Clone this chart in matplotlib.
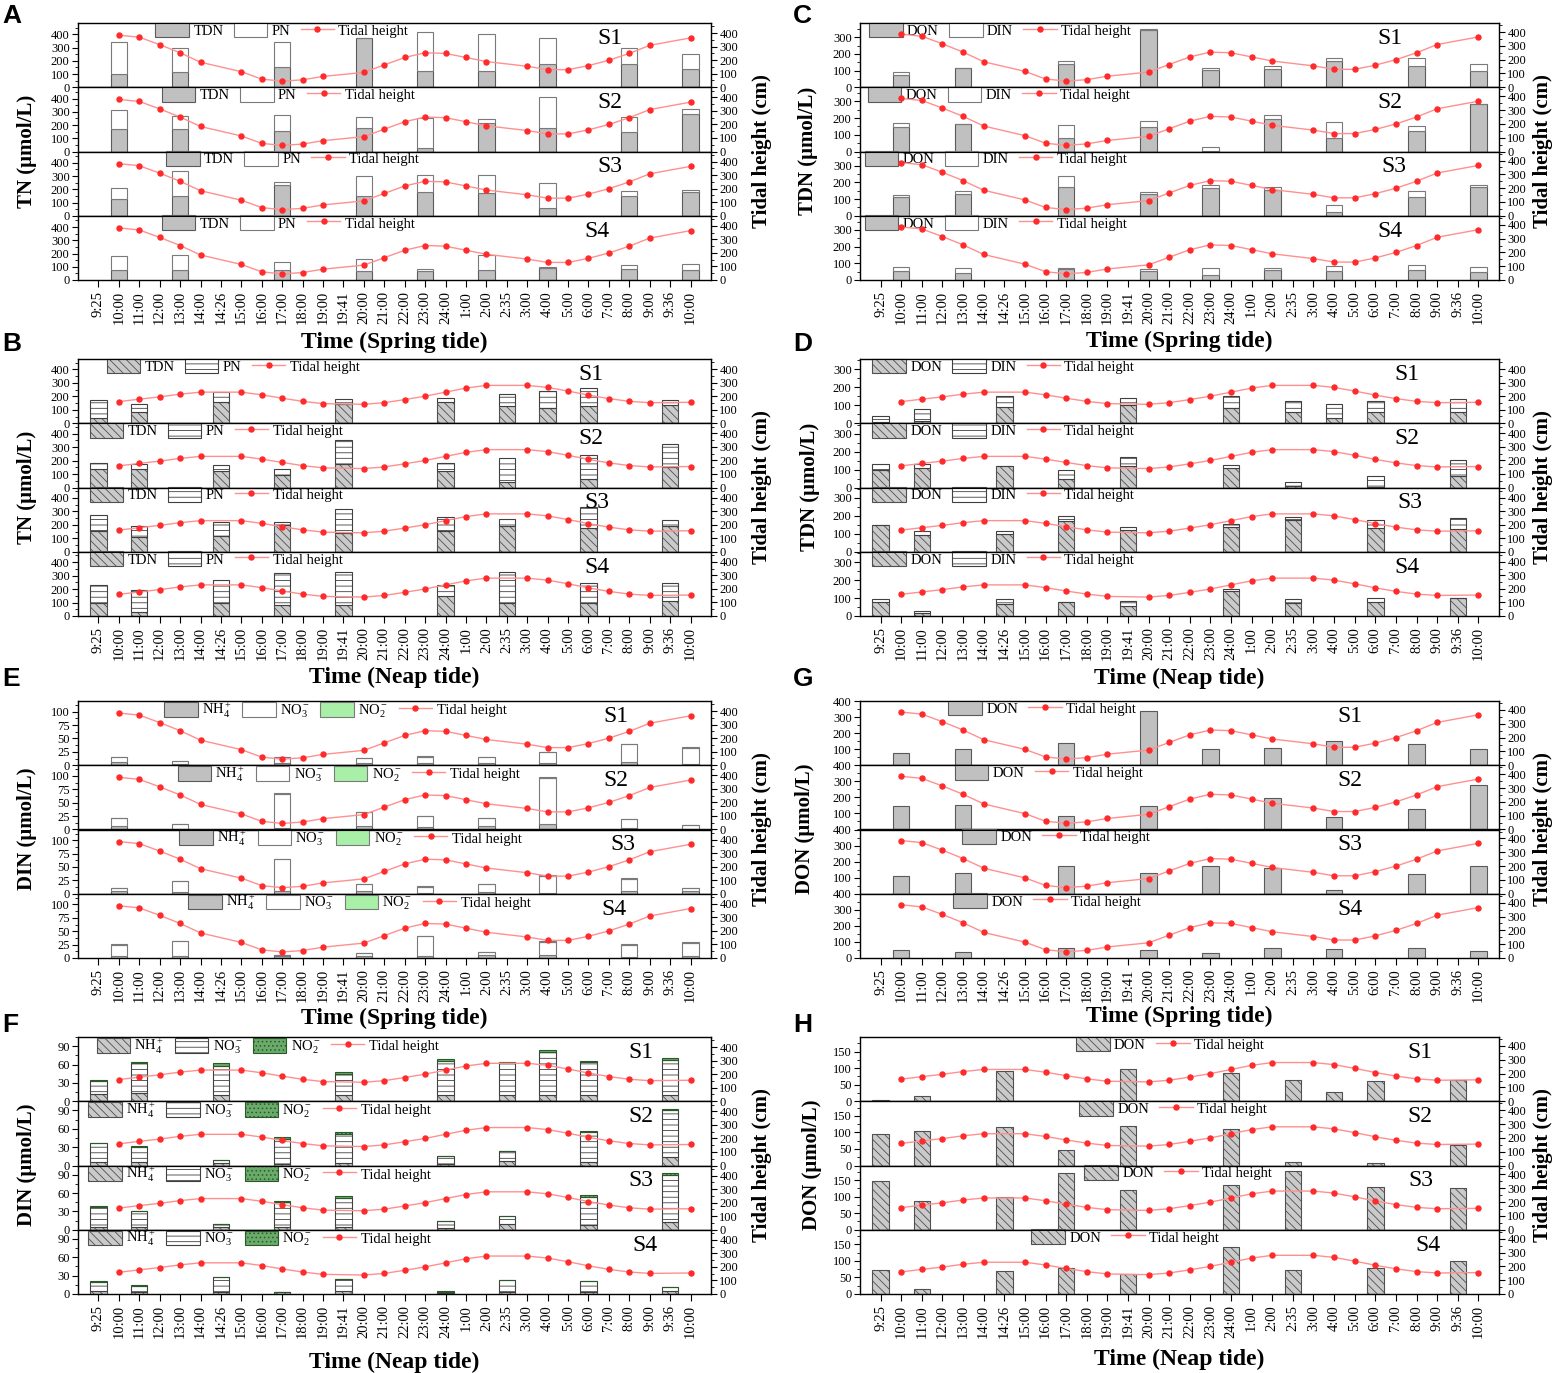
import matplotlib
matplotlib.use('Agg')
import matplotlib.pyplot as plt
import numpy as np
from matplotlib.patches import Patch
from matplotlib.lines import Line2D
from matplotlib.ticker import MultipleLocator

plt.rcParams['font.family'] = ['Liberation Serif', 'DejaVu Serif']
plt.rcParams['mathtext.fontset'] = 'custom'
plt.rcParams['mathtext.rm'] = 'Liberation Serif'
plt.rcParams['mathtext.it'] = 'Liberation Serif:italic'
plt.rcParams['mathtext.bf'] = 'Liberation Serif:bold'
plt.rcParams['hatch.linewidth'] = 0.6

nan = np.nan

# time axis shared by every panel
times = ['9:25', '10:00', '11:00', '12:00', '13:00', '14:00', '14:26', '15:00', '16:00',
         '17:00', '18:00', '19:00', '19:41', '20:00', '21:00', '22:00', '23:00', '24:00',
         '1:00', '2:00', '2:35', '3:00', '4:00', '5:00', '6:00', '7:00', '8:00', '9:00',
         '9:36', '10:00']
tide_hours = ['10:00', '11:00', '12:00', '13:00', '14:00', '15:00', '16:00', '17:00', '18:00',
              '19:00', '20:00', '21:00', '22:00', '23:00', '24:00', '1:00', '2:00', '3:00',
              '4:00', '5:00', '6:00', '7:00', '8:00', '9:00', '10:00']
spring_tide = [385, 370, 315, 255, 185, 115, 60, 45, 55, 80, 110, 165, 220, 255, 250, 220,
               190, 155, 130, 130, 160, 200, 250, 310, 365]
neap_tide = [160, 178, 195, 215, 230, 230, 210, 185, 162, 145, 140, 152, 175, 200, 230, 260,
             280, 280, 265, 238, 208, 182, 162, 152, 155]

spring_samples = ['10:00', '13:00', '17:00', '20:00', '23:00', '2:00', '4:00', '8:00', '10:00']
neap_samples = ['9:25', '11:00', '14:26', '17:00', '19:41', '24:00', '2:35', '4:00', '6:00', '9:36']

# A: spring TN = TDN + PN  (rows S1..S4)
a_tdn = [[100, 115, 155, 375, 120, 125, 175, 175, 135],
         [170, 170, 155, 178, 30, 215, 180, 150, 285],
         [125, 150, 235, 150, 180, 170, 60, 150, 180],
         [75, 75, 75, 65, 65, 75, 90, 85, 75]]
a_pn = [[245, 185, 185, 0, 300, 275, 200, 120, 115],
        [145, 100, 120, 80, 225, 30, 230, 110, 35],
        [85, 190, 20, 150, 130, 140, 185, 35, 15],
        [105, 115, 60, 90, 15, 115, 5, 25, 45]]

# B: neap TN = TDN + PN
b_tdn = [[40, 80, 160, nan, 145, 155, 125, 110, 125, 135],
         [135, 135, 125, 95, 175, 125, 40, nan, 65, 155],
         [155, 110, 115, 200, 140, 155, 190, nan, 180, 190],
         [95, 30, 95, 80, 80, 150, 100, nan, 95, 110]]
b_pn = [[135, 60, 70, nan, 35, 35, 95, 130, 135, 40],
        [45, 40, 40, 45, 175, 55, 178, nan, 175, 165],
        [115, 80, 105, 20, 180, 103, 50, nan, 150, 45],
        [135, 160, 170, 240, 250, 80, 225, nan, 150, 135]]

# C: spring TDN = DON + DIN
c_don = [[75, 113, 137, 342, 102, 108, 155, 130, 100],
         [147, 165, 83, 145, 5, 193, 78, 125, 282],
         [110, 128, 170, 128, 165, 152, 22, 115, 172],
         [55, 42, 68, 55, 28, 60, 53, 60, 48]]
c_din = [[17, 2, 18, 10, 16, 17, 23, 45, 37],
         [23, 0, 74, 35, 23, 25, 97, 25, 3],
         [13, 22, 68, 17, 20, 18, 40, 32, 11],
         [22, 30, 4, 13, 44, 12, 32, 30, 29]]

# D: neap TDN = DON + DIN
d_don = [[8, 15, 90, nan, 100, 85, 62, 30, 62, 65],
         [100, 110, 118, 48, 120, 110, 8, nan, 5, 65],
         [148, 92, 98, 172, 120, 138, 178, nan, 132, 128],
         [78, 15, 68, 78, 58, 142, 75, nan, 80, 100]]
d_din = [[32, 67, 62, nan, 42, 67, 63, 80, 63, 70],
         [32, 22, 4, 47, 50, 15, 22, nan, 57, 90],
         [2, 23, 19, 28, 18, 14, 14, nan, 46, 60],
         [17, 15, 27, 2, 27, 6, 20, nan, 20, 0]]

# E: spring DIN = NH4 + NO3 + NO2
e_nh4 = [[6, 3, 4, 4, 4, 4, 4, 7, 2],
         [6, 1, 3, 6, 4, 6, 11, 3, 1],
         [5, 4, 6, 6, 1, 3, 2, 6, 5],
         [4, 3, 4, 3, 4, 5, 6, 2, 4]]
e_no3 = [[9, 5, 11, 9, 12, 11, 20, 32, 30],
         [15, 9, 64, 26, 21, 15, 85, 17, 7],
         [5, 20, 59, 12, 12, 15, 32, 22, 5],
         [21, 29, 1, 6, 37, 6, 24, 23, 24]]
e_no2 = [[1, 0, 1, 1, 1.5, 1, 1, 1.5, 2.5],
         [1, 0.5, 1.5, 1, 1, 1, 2, 0.5, 0.5],
         [0.5, 0.5, 0.5, 0.5, 1, 0.5, 1, 1, 0.5],
         [0.5, 0.5, 0, 1, 1, 1, 1, 0.5, 1]]

# F: neap DIN = NH4 + NO3 + NO2
f_nh4 = [[12, 14, 11, nan, 11, 11, 11, 11, 10, 11],
         [5, 6, 4, 3, 4, 2, 8, nan, 6, 14],
         [4, 4, 5, 4, 5, 3, 9, nan, 7, 12],
         [5, 3, 4, 3, 5, 2, 3, nan, 4, 5]]
f_no3 = [[21, 48, 47, nan, 34, 55, 51, 69, 54, 56],
         [32, 25, 5, 41, 47, 13, 15, nan, 48, 76],
         [33, 26, 5, 41, 47, 12, 14, nan, 47, 78],
         [15, 10, 23, 0.5, 20, 2, 20, nan, 17, 6]]
f_no2 = [[2, 2, 4, nan, 2, 3, 1.5, 4, 2, 3],
         [0.5, 0.5, 0, 2, 3, 0, 0, nan, 3, 3],
         [1, 0.5, 0, 2, 3, 0, 0, nan, 3, 3],
         [2, 1, 1, 0, 0, 1, 0, nan, 0.5, 0.5]]

# G: spring DON, H: neap DON
g_don = [[75, 102, 140, 340, 102, 108, 152, 133, 102],
         [148, 155, 85, 148, 5, 198, 80, 130, 275],
         [112, 128, 170, 128, 170, 158, 25, 120, 170],
         [48, 40, 65, 52, 30, 60, 55, 60, 45]]
h_don = [[5, 17, 92, nan, 97, 85, 65, 28, 62, 65],
         [95, 105, 115, 48, 118, 110, 12, nan, 8, 63],
         [147, 86, 100, 170, 120, 135, 178, nan, 128, 125],
         [73, 15, 68, 77, 60, 142, 73, nan, 77, 100]]

styles = {
    'sp_gray': dict(facecolor='#c0c0c0', edgecolor='#5a5a5a'),
    'sp_white': dict(facecolor='white', edgecolor='#7a7a7a'),
    'sp_green': dict(facecolor='#a8f0a8', edgecolor='#7a7a7a'),
    'np_gray': dict(facecolor='#cacaca', edgecolor='#505050', hatch='\\\\\\\\'),
    'np_white': dict(facecolor='white', edgecolor='#404040', hatch='---'),
    'np_green': dict(facecolor='#6aaa6a', edgecolor='#2a5a2a', hatch='....'),
}
NH4, NO3, NO2 = r'NH$_4^+$', r'NO$_3^-$', r'NO$_2^-$'
LINE_C, DOT_C = '#ff9090', '#ff2a2a'

W, H = 1554, 1373
fig = plt.figure(figsize=(W / 100, H / 100), dpi=100)


def locate(labels):
    # walk the time axis in order so the repeated 10:00 lands on the right slot
    out, start = [], 0
    for lab in labels:
        i = times.index(lab, start)
        out.append(i)
        start = i + 1
    return np.array(out)


def draw_panel(p):
    x0, y0, w = p['box']
    h = 257 / 4
    sx = locate(p['samples'])
    tx = locate(tide_hours)
    for k in range(4):
        ax = fig.add_axes([x0 / W, 1 - (y0 + (k + 1) * h) / H, w / W, h / H])
        bottom = np.zeros(len(sx))
        handles = []
        for label, data, st in p['series']:
            v = np.array(data[k], float)
            m = ~np.isnan(v)
            ax.bar(sx[m], v[m], bottom=bottom[m], width=0.8, linewidth=0.8, **styles[st])
            bottom = bottom + np.nan_to_num(v)
            handles.append(Patch(label=label, linewidth=0.8, **styles[st]))
        ax.set_xlim(-1, 30)
        ax.set_ylim(0, p['ylim'])
        ticks = np.arange(0, p['ylim'] + 0.01, p['ystep'])
        if p.get('drop_zero') and k < 3:
            ticks = ticks[1:]
        ax.set_yticks(ticks)
        ax.yaxis.set_minor_locator(MultipleLocator(p['yminor']))
        ax.tick_params(axis='y', labelsize=9, length=4, pad=2)
        ax.tick_params(axis='y', which='minor', length=2)
        for s in ax.spines.values():
            s.set_linewidth(1.0)
            s.set_color('#333333')
        if k == 3:
            ax.set_xticks(range(len(times)))
            ax.set_xticklabels(times, rotation=90, fontsize=10.5)
            ax.tick_params(axis='x', length=5, pad=3)
        else:
            ax.tick_params(axis='x', bottom=False, labelbottom=False)

        tw = ax.twinx()
        tw.plot(tx, p['tide'], color=LINE_C, lw=1.0, marker='o', ms=3.6,
                mfc=DOT_C, mec=DOT_C)
        tw.set_ylim(0, p['ytide'])
        tw.set_yticks(range(0, 401, 100))
        tw.yaxis.set_minor_locator(MultipleLocator(50))
        tw.tick_params(axis='y', labelsize=9, length=4, pad=2)
        tw.tick_params(axis='y', which='minor', length=2)
        handles.append(Line2D([], [], color=LINE_C, lw=1.0, marker='o', ms=3.6,
                              mfc=DOT_C, mec=DOT_C, label='Tidal height'))
        ax.legend(handles=handles, loc='upper left', bbox_to_anchor=(p['leg_x'][k], 1.03),
                  ncol=len(handles), frameon=False, fontsize=10.5, borderaxespad=0,
                  borderpad=0.1, handlelength=2.3, handleheight=1.2, handletextpad=0.3,
                  columnspacing=0.7)
        ax.text(p['s_x'][k], 0.76, 'S%d' % (k + 1), transform=ax.transAxes,
                fontsize=17, ha='center', va='center', zorder=10)

    # labels in pixel positions
    fig.text(p['ylab_x'] / W, 1 - (y0 + 128) / H, p['ylabel'], rotation=90,
             fontsize=15, fontweight='bold', ha='center', va='center')
    fig.text(p['tlab_x'] / W, 1 - (y0 + 128) / H, 'Tidal height (cm)', rotation=90,
             fontsize=15, fontweight='bold', ha='center', va='center')
    fig.text((x0 + w / 2) / W, 1 - p['xlab_y'] / H, p['xlabel'], fontsize=17,
             fontweight='bold', ha='center', va='center')
    fig.text(p['letter_xy'][0] / W, 1 - p['letter_xy'][1] / H, p['letter'],
             fontsize=19, fontweight='bold', family='Liberation Sans', ha='left', va='center')


L, R = (78, 633), (860, 639)
panels = [
    dict(letter='A', box=(L[0], 23, L[1]), samples=spring_samples, tide=spring_tide,
         series=[('TDN', a_tdn, 'sp_gray'), ('PN', a_pn, 'sp_white')],
         ylim=485, ystep=100, yminor=50, ytide=475, ylabel='TN (μmol/L)',
         xlabel='Time (Spring tide)', xlab_y=342, ylab_x=27, tlab_x=762,
         letter_xy=(2, 16), leg_x=[0.12, 0.13, 0.137, 0.13], s_x=[0.84, 0.84, 0.84, 0.82]),
    dict(letter='B', box=(L[0], 359, L[1]), samples=neap_samples, tide=neap_tide,
         series=[('TDN', b_tdn, 'np_gray'), ('PN', b_pn, 'np_white')],
         ylim=477, ystep=100, yminor=50, ytide=475, ylabel='TN (μmol/L)',
         xlabel='Time (Neap tide)', xlab_y=677, ylab_x=27, tlab_x=762,
         letter_xy=(2, 344), leg_x=[0.043, 0.016, 0.016, 0.016], s_x=[0.81, 0.81, 0.82, 0.82]),
    dict(letter='C', box=(R[0], 23, R[1]), samples=spring_samples, tide=spring_tide,
         series=[('DON', c_don, 'sp_gray'), ('DIN', c_din, 'sp_white')],
         ylim=385, ystep=100, yminor=50, ytide=466, ylabel='TDN (μmol/L)',
         xlabel='Time (Spring tide)', xlab_y=341, ylab_x=808, tlab_x=1543,
         letter_xy=(793, 16), leg_x=[0.012, 0.01, 0.005, 0.005], s_x=[0.83, 0.83, 0.835, 0.83]),
    dict(letter='D', box=(R[0], 359, R[1]), samples=neap_samples, tide=neap_tide,
         series=[('DON', d_don, 'np_gray'), ('DIN', d_din, 'np_white')],
         ylim=358, ystep=100, yminor=50, ytide=475, ylabel='TDN (μmol/L)',
         xlabel='Time (Neap tide)', xlab_y=678, ylab_x=810, tlab_x=1543,
         letter_xy=(793, 344), leg_x=[0.017, 0.017, 0.017, 0.017], s_x=[0.856, 0.856, 0.86, 0.856]),
    dict(letter='E', box=(L[0], 701, L[1]), samples=spring_samples, tide=spring_tide,
         series=[(NH4, e_nh4, 'sp_gray'), (NO3, e_no3, 'sp_white'), (NO2, e_no2, 'sp_green')],
         ylim=120, ystep=25, yminor=12.5, ytide=474, ylabel='DIN (μmol/L)',
         xlabel='Time (Spring tide)', xlab_y=1018, ylab_x=27, tlab_x=762,
         letter_xy=(2, 679), leg_x=[0.134, 0.155, 0.158, 0.172], s_x=[0.85, 0.85, 0.86, 0.847]),
    dict(letter='F', box=(L[0], 1037, L[1]), samples=neap_samples, tide=neap_tide,
         series=[(NH4, f_nh4, 'np_gray'), (NO3, f_no3, 'np_white'), (NO2, f_no2, 'np_green')],
         ylim=105, ystep=30, yminor=15, ytide=474, ylabel='DIN (μmol/L)',
         xlabel='Time (Neap tide)', xlab_y=1362, ylab_x=27, tlab_x=762,
         letter_xy=(2, 1025), leg_x=[0.027, 0.014, 0.014, 0.014], s_x=[0.89, 0.89, 0.89, 0.895]),
    dict(letter='G', box=(R[0], 701, R[1]), samples=spring_samples, tide=spring_tide,
         series=[('DON', g_don, 'sp_gray')], drop_zero=True,
         ylim=400, ystep=100, yminor=50, ytide=465, ylabel='DON (μmol/L)',
         xlabel='Time (Spring tide)', xlab_y=1016, ylab_x=805, tlab_x=1543,
         letter_xy=(793, 679), leg_x=[0.136, 0.146, 0.158, 0.144], s_x=[0.767, 0.767, 0.767, 0.767]),
    dict(letter='H', box=(R[0], 1037, R[1]), samples=neap_samples, tide=neap_tide,
         series=[('DON', h_don, 'np_gray')],
         ylim=194, ystep=50, yminor=25, ytide=465, ylabel='DON (μmol/L)',
         xlabel='Time (Neap tide)', xlab_y=1359, ylab_x=812, tlab_x=1543,
         letter_xy=(793, 1025), leg_x=[0.336, 0.341, 0.349, 0.266], s_x=[0.876, 0.876, 0.878, 0.889]),
]

for p in panels:
    draw_panel(p)

fig.savefig('out.png', dpi=100)
